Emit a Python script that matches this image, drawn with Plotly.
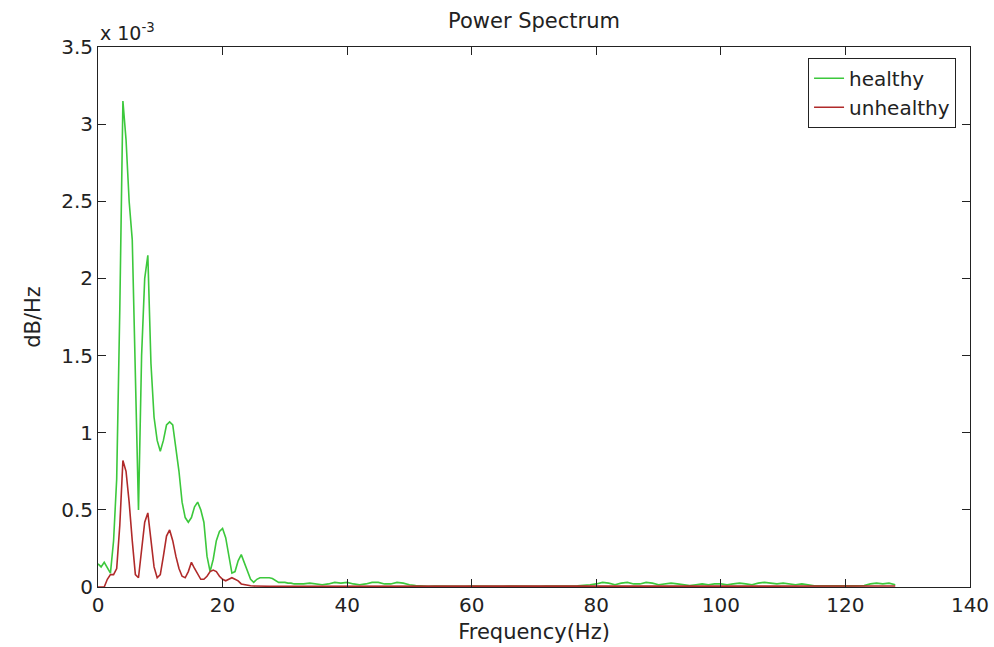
import plotly.graph_objects as go

# Frequency grid (Hz)
freq_low = [0, 0.5, 1, 1.5, 2, 2.5, 3, 3.5, 4, 4.5, 5, 5.5, 6, 6.5, 7, 7.5, 8, 8.5, 9, 9.5,
            10, 10.5, 11, 11.5, 12, 12.5, 13, 13.5, 14, 14.5, 15, 15.5, 16, 16.5, 17, 17.5,
            18, 18.5, 19, 19.5, 20, 20.5, 21, 21.5, 22, 22.5, 23, 23.5, 24, 24.5, 25, 25.5,
            26, 26.5, 27, 27.5, 28, 28.5, 29, 29.5, 30, 30.5, 31, 31.5, 32]
freq_high = [33, 34, 35, 36, 37, 38, 39, 40, 41, 42, 43, 44, 45, 46, 47, 48, 49, 50, 51, 52,
             53, 54, 55, 56, 57, 58, 59, 60, 61, 62, 63, 64, 65, 66, 67, 68, 69, 70, 71, 72,
             73, 74, 75, 76, 77, 78, 79, 80, 81, 82, 83, 84, 85, 86, 87, 88, 89, 90, 91, 92,
             93, 94, 95, 96, 97, 98, 99, 100, 101, 102, 103, 104, 105, 106, 107, 108, 109, 110,
             111, 112, 113, 114, 115, 116, 117, 118, 119, 120, 121, 122, 123, 124, 125, 126,
             127, 128]

# Power spectral density, in units of 1e-3
healthy_low = [0.15, 0.13, 0.16, 0.12, 0.09, 0.30, 0.70, 1.80, 3.15, 2.90, 2.50, 2.25, 1.30, 0.50,
               1.50, 2.00, 2.15, 1.45, 1.10, 0.95, 0.88, 0.95, 1.05, 1.07, 1.05, 0.90, 0.75, 0.55,
               0.45, 0.42, 0.45, 0.52, 0.55, 0.50, 0.42, 0.20, 0.10, 0.18, 0.30, 0.36, 0.38, 0.32,
               0.20, 0.09, 0.10, 0.17, 0.21, 0.16, 0.10, 0.05, 0.03, 0.05, 0.06, 0.06, 0.06, 0.06,
               0.055, 0.04, 0.03, 0.03, 0.03, 0.025, 0.025, 0.02, 0.02]
healthy_high = [0.02, 0.025, 0.02, 0.015, 0.02, 0.03, 0.025, 0.03, 0.02, 0.015, 0.02, 0.03, 0.03,
                0.02, 0.02, 0.03, 0.025, 0.015, 0.01, 0.006, 0.005, 0.006, 0.005, 0.006, 0.005,
                0.006, 0.005, 0.006, 0.005, 0.006, 0.005, 0.006, 0.005, 0.006, 0.005, 0.006, 0.005,
                0.006, 0.005, 0.006, 0.005, 0.006, 0.005, 0.006, 0.008, 0.01, 0.015, 0.02, 0.03,
                0.025, 0.015, 0.025, 0.03, 0.02, 0.02, 0.03, 0.025, 0.015, 0.02, 0.025, 0.02, 0.015,
                0.01, 0.015, 0.02, 0.015, 0.02, 0.02, 0.015, 0.02, 0.025, 0.02, 0.015, 0.025, 0.03,
                0.025, 0.02, 0.025, 0.02, 0.015, 0.02, 0.015, 0.008, 0.008, 0.007, 0.008, 0.007,
                0.008, 0.007, 0.008, 0.01, 0.02, 0.025, 0.02, 0.025, 0.015]
unhealthy_low = [0.00, 0.00, 0.00, 0.05, 0.08, 0.08, 0.12, 0.40, 0.82, 0.75, 0.55, 0.30, 0.08, 0.06,
                 0.25, 0.42, 0.48, 0.32, 0.13, 0.06, 0.08, 0.20, 0.33, 0.37, 0.30, 0.20, 0.12, 0.07,
                 0.06, 0.10, 0.16, 0.12, 0.08, 0.05, 0.05, 0.07, 0.10, 0.11, 0.10, 0.07, 0.05, 0.04,
                 0.05, 0.06, 0.05, 0.04, 0.02, 0.015, 0.01, 0.008, 0.006, 0.005, 0.005, 0.005, 0.005,
                 0.005, 0.005, 0.005, 0.005, 0.005, 0.005, 0.005, 0.005, 0.005, 0.005]
unhealthy_high = [0.005, 0.004, 0.005, 0.006, 0.005, 0.004, 0.005, 0.006, 0.005, 0.004, 0.005,
                  0.006, 0.005, 0.004, 0.005, 0.006, 0.005, 0.004, 0.005, 0.006, 0.005, 0.004,
                  0.005, 0.006, 0.005, 0.004, 0.005, 0.006, 0.005, 0.004, 0.005, 0.006, 0.005,
                  0.004, 0.005, 0.006, 0.005, 0.004, 0.005, 0.006, 0.005, 0.004, 0.005, 0.006,
                  0.005, 0.004, 0.005, 0.006, 0.005, 0.004, 0.005, 0.006, 0.005, 0.004, 0.005,
                  0.006, 0.005, 0.004, 0.005, 0.006, 0.005, 0.004, 0.005, 0.006, 0.005, 0.004,
                  0.005, 0.006, 0.005, 0.004, 0.005, 0.006, 0.005, 0.004, 0.005, 0.006, 0.005,
                  0.004, 0.005, 0.006, 0.005, 0.004, 0.005, 0.006, 0.005, 0.004, 0.005, 0.006,
                  0.005, 0.004, 0.005, 0.006, 0.005, 0.004, 0.005, 0.006]

series_names = ["healthy", "unhealthy"]
x_ticks = [0, 20, 40, 60, 80, 100, 120, 140]
y_ticks = [0, 0.5, 1, 1.5, 2, 2.5, 3, 3.5]

freq = freq_low + freq_high
healthy = healthy_low + healthy_high
unhealthy = unhealthy_low + unhealthy_high

FONT = "DejaVu Sans"
INK = "#222222"
fig = go.Figure()
fig.add_trace(go.Scatter(x=freq, y=healthy, mode="lines", name=series_names[0],
                         line=dict(color="#3cc83c", width=1.6)))
fig.add_trace(go.Scatter(x=freq, y=unhealthy, mode="lines", name=series_names[1],
                         line=dict(color="#b02a2a", width=1.6)))

axis_common = dict(showline=True, linecolor=INK, linewidth=1, mirror="ticks",
                   ticks="inside", ticklen=8, tickcolor=INK, showgrid=False,
                   zeroline=False, automargin=False,
                   tickfont=dict(family=FONT, size=20, color=INK))
fig.update_xaxes(range=[0, 140], tickvals=x_ticks,
                 title=dict(text="Frequency(Hz)", font=dict(family=FONT, size=21, color=INK),
                            standoff=8),
                 **axis_common)
fig.update_yaxes(range=[0, 3.5], tickvals=y_ticks,
                 title=dict(text="dB/Hz", font=dict(family=FONT, size=21, color=INK),
                            standoff=14),
                 **axis_common)

fig.add_annotation(text="x 10<sup>-3</sup>", xref="paper", yref="paper", x=0, y=1,
                   xanchor="left", yanchor="bottom", showarrow=False, xshift=0, yshift=1,
                   font=dict(family=FONT, size=19, color=INK))

fig.update_layout(
    width=994, height=647,
    margin=dict(l=98, r=24, t=47, b=60),
    paper_bgcolor="white", plot_bgcolor="white",
    title=dict(text="Power Spectrum", xref="paper", x=0.5, xanchor="center",
               yref="container", y=0.968, yanchor="middle",
               font=dict(family=FONT, size=21, color=INK)),
    legend=dict(x=0.984, y=0.98, xanchor="right", yanchor="top", bgcolor="white",
                bordercolor=INK, borderwidth=1,
                font=dict(family=FONT, size=20, color=INK), tracegroupgap=2),
    showlegend=True,
)

fig.write_html("out.html")
